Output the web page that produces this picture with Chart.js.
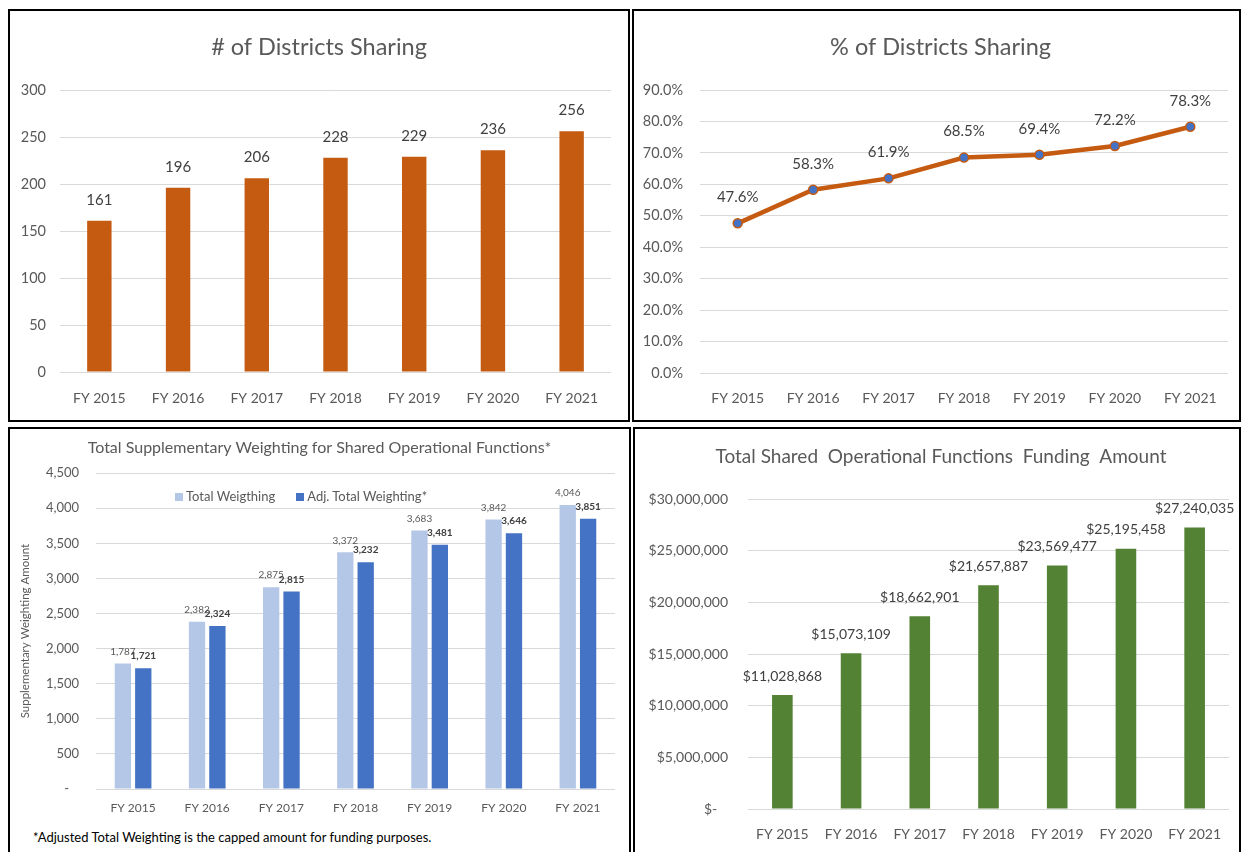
<!DOCTYPE html>
<html>
<head>
<meta charset="utf-8">
<script src="https://cdn.jsdelivr.net/npm/chart.js@4.4.1/dist/chart.umd.min.js"></script>
<style>
  body { margin: 0; background: #fff; width: 1241px; height: 852px; overflow: hidden; position: relative; }
  .panel { position: absolute; border: 2px solid #000; box-sizing: border-box; background: #fff; }
  .panel canvas { position: absolute; left: 0; top: 0; }
  #legend3 { position: absolute; left: 175px; top: 488px; display: flex; gap: 21px; font: 13px Lato, sans-serif; color: #595959; }
  #legend3 span.box { display: inline-block; width: 8px; height: 8px; margin-right: 3px; }
  #note3 { position: absolute; left: 33px; top: 829px; font: 13px Lato, sans-serif; color: #000; }
</style>
</head>
<body>
<div class="panel" style="left:8px;top:9px;width:622px;height:413px;"><canvas id="countChart" width="618" height="409"></canvas></div>
<div class="panel" style="left:632px;top:9px;width:609px;height:413px;"><canvas id="pctChart" width="605" height="409"></canvas></div>
<div class="panel" style="left:8px;top:427px;width:623px;height:440px;"><canvas id="weightChart" width="619" height="400"></canvas></div>
<div class="panel" style="left:633px;top:427px;width:608px;height:440px;"><canvas id="fundChart" width="604" height="423"></canvas></div>
<div id="legend3"></div>
<div id="note3">*Adjusted Total Weighting is the capped amount for funding purposes.</div>

<script>
const years = ['FY 2015', 'FY 2016', 'FY 2017', 'FY 2018', 'FY 2019', 'FY 2020', 'FY 2021'];
const districtCounts = [161, 196, 206, 228, 229, 236, 256];
const districtPct = [47.6, 58.3, 61.9, 68.5, 69.4, 72.2, 78.3];
const totalWeighting = [1787, 2382, 2875, 3372, 3683, 3842, 4046];
const adjWeighting = [1721, 2324, 2815, 3232, 3481, 3646, 3851];
const fundingAmount = [11028868, 15073109, 18662901, 21657887, 23569477, 25195458, 27240035];

const LATO = "Lato, sans-serif";
const TEXT = '#595959';
const GRID = '#D9D9D9';

const fmt = n => n.toLocaleString('en-US');

// draws value labels above each bar / point
const valueLabels = {
    id: 'valueLabels',
    afterDatasetsDraw(chart, args, opts) {
        const ctx = chart.ctx;
        chart.data.datasets.forEach((ds, di) => {
            const style = opts.styles[di];
            if (!style) return;
            const meta = chart.getDatasetMeta(di);
            ctx.save();
            ctx.font = style.font;
            ctx.fillStyle = style.color;
            ctx.textAlign = 'center';
            ctx.textBaseline = 'middle';
            meta.data.forEach((el, i) => {
                ctx.fillText(style.format(ds.data[i]), el.x, el.y - style.offset);
            });
            ctx.restore();
        });
    }
};

function xAxis(size, height, pad) {
    return {
        grid: { display: false, drawTicks: false },
        border: { display: false },
        ticks: { color: TEXT, font: { size: size, family: LATO }, padding: pad, maxRotation: 0, autoSkip: false },
        afterFit: s => { s.height = height; }
    };
}

function yAxis(max, step, size, width, pad, cb) {
    return {
        min: 0, max: max,
        grid: { color: GRID, drawTicks: false },
        border: { display: false },
        ticks: { stepSize: step, color: TEXT, font: { size: size, family: LATO }, padding: pad, callback: cb },
        afterFit: s => { s.width = width; }
    };
}

// empty axis on the right, only keeps space so the title stays centred on the panel
function rightGap(width) {
    return {
        position: 'right',
        grid: { display: false, drawTicks: false },
        border: { display: false },
        ticks: { display: false },
        afterFit: s => { s.width = width; }
    };
}

function titleOpts(text, size, top, bottom) {
    return { display: true, text: text, color: TEXT, font: { size: size, family: LATO, weight: 'normal' }, padding: { top: top, bottom: bottom } };
}

// # of Districts Sharing
new Chart(document.getElementById('countChart'), {
    type: 'bar',
    data: {
        labels: years,
        datasets: [{ data: districtCounts, backgroundColor: '#C55A11', barPercentage: 0.31, categoryPercentage: 1 }]
    },
    options: {
        responsive: false, animation: false,
        layout: { padding: 0 },
        scales: {
            x: xAxis(14, 48, 18),
            y: yAxis(300, 50, 14.5, 50, 14, v => v),
            gap: rightGap(17)
        },
        plugins: {
            legend: { display: false },
            tooltip: { enabled: false },
            title: titleOpts('# of Districts Sharing', 23.5, 21.9, 28.9),
            valueLabels: { styles: [{ font: '15px ' + LATO, color: '#404040', offset: 21, format: v => v }] }
        }
    },
    plugins: [valueLabels]
});

// % of Districts Sharing
new Chart(document.getElementById('pctChart'), {
    type: 'line',
    data: {
        labels: years,
        datasets: [{
            data: districtPct, borderColor: '#C55A11', borderWidth: 4.5,
            pointRadius: 4.5, pointBackgroundColor: '#4472C4', pointBorderColor: '#C55A11', pointBorderWidth: 1.5
        }]
    },
    options: {
        responsive: false, animation: false,
        layout: { padding: { left: 8, right: 0, top: 0, bottom: 0 } },
        scales: {
            x: Object.assign(xAxis(14, 47, 17), { offset: true }),
            y: yAxis(90, 10, 14.5, 58, 17, v => v.toFixed(1) + '%'),
            gap: rightGap(11)
        },
        plugins: {
            legend: { display: false },
            tooltip: { enabled: false },
            title: titleOpts('% of Districts Sharing', 23.5, 21.9, 28.9),
            valueLabels: { styles: [{ font: '15px ' + LATO, color: '#404040', offset: 26, format: v => v.toFixed(1) + '%' }] }
        }
    },
    plugins: [valueLabels]
});

// Total Supplementary Weighting
const weightChart = new Chart(document.getElementById('weightChart'), {
    type: 'bar',
    data: {
        labels: years,
        datasets: [
            { label: 'Total Weigthing', data: totalWeighting, backgroundColor: '#B4C7E7', barPercentage: 0.8, categoryPercentage: 0.55 },
            { label: 'Adj. Total Weighting*', data: adjWeighting, backgroundColor: '#4472C4', barPercentage: 0.8, categoryPercentage: 0.55 }
        ]
    },
    options: {
        responsive: false, animation: false,
        layout: { padding: 0 },
        scales: {
            x: xAxis(12, 40, 12),
            y: Object.assign(yAxis(4500, 500, 13, 86, 17, v => v === 0 ? '-   ' : fmt(v)), {
                title: { display: true, text: 'Supplementary Weighting Amount', color: TEXT, font: { size: 11.5, family: LATO }, padding: { top: 8, bottom: 0 } }
            }),
            gap: rightGap(14)
        },
        plugins: {
            legend: { display: false },
            tooltip: { enabled: false },
            title: titleOpts('Total Supplementary Weighting for Shared Operational Functions*', 16, 9.5, 15.5),
            valueLabels: { styles: [
                { font: '10px ' + LATO, color: TEXT, offset: 12, format: fmt },
                { font: 'bold 10px ' + LATO, color: '#404040', offset: 12, format: fmt }
            ] }
        }
    },
    plugins: [valueLabels]
});

const legendBox = document.getElementById('legend3');
weightChart.data.datasets.forEach(ds => {
    const item = document.createElement('div');
    item.innerHTML = '<span class="box" style="background:' + ds.backgroundColor + '"></span>' + ds.label;
    legendBox.appendChild(item);
});

// Total Shared Operational Functions Funding Amount
new Chart(document.getElementById('fundChart'), {
    type: 'bar',
    data: {
        labels: years,
        datasets: [{ data: fundingAmount, backgroundColor: '#548235', barPercentage: 0.3, categoryPercentage: 1 }]
    },
    options: {
        responsive: false, animation: false,
        layout: { padding: { left: 8, right: 0, top: 0, bottom: 0 } },
        scales: {
            x: xAxis(14, 43, 17),
            y: yAxis(30000000, 5000000, 14, 105, 20, v => v === 0 ? '$-   ' : '$' + fmt(v)),
            gap: rightGap(10)
        },
        plugins: {
            legend: { display: false },
            tooltip: { enabled: false },
            title: titleOpts('Total Shared  Operational Functions  Funding  Amount', 19, 16.6, 30.6),
            valueLabels: { styles: [{ font: '14px ' + LATO, color: '#404040', offset: 19, format: v => '$' + fmt(v) }] }
        }
    },
    plugins: [valueLabels]
});
</script>
</body>
</html>
